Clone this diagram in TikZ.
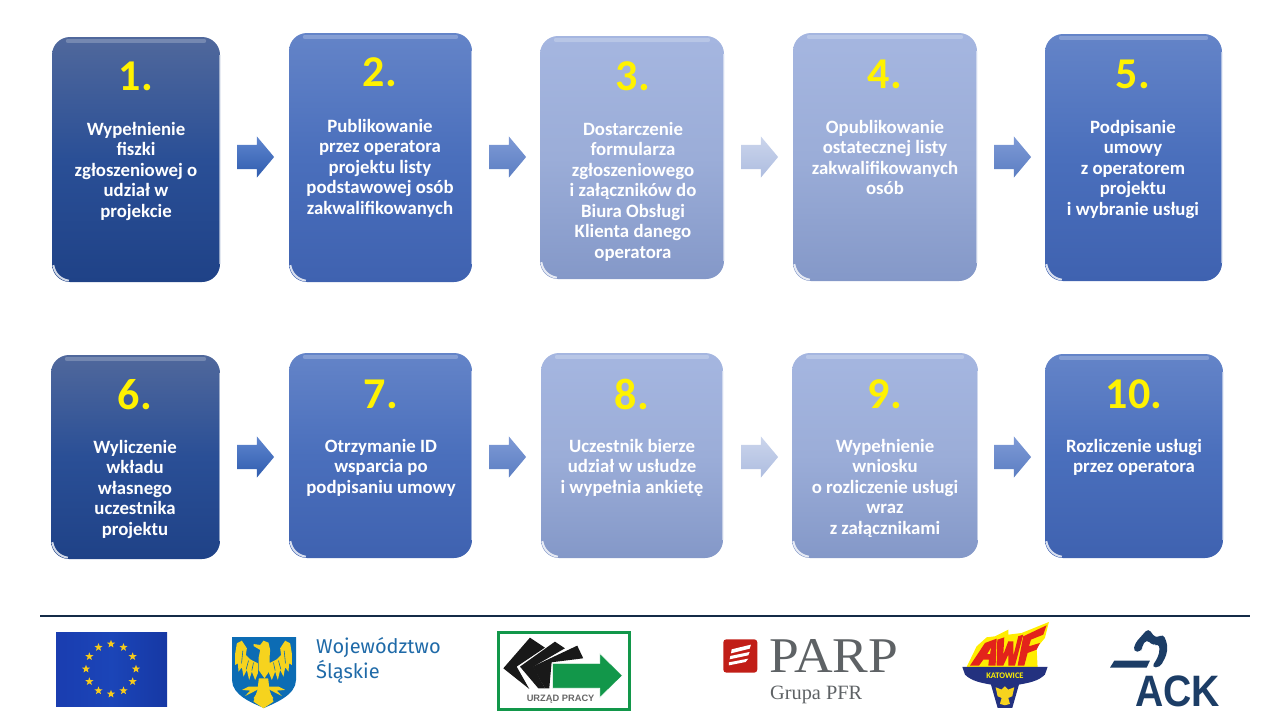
\documentclass[tikz,border=0pt]{standalone}
\usepackage{fontspec}
\setmainfont{Carlito}
\newfontfamily\serifname{Liberation Serif}
\newfontfamily\arialname{Liberation Sans}
\newfontfamily\firaname{Fira Sans}
\usetikzlibrary{shapes.arrows,shapes.geometric}

\definecolor{darktop}{HTML}{50689C}
\definecolor{darkmid}{HTML}{2A4F96}
\definecolor{darkbot}{HTML}{1F4287}
\definecolor{midtop}{HTML}{6484C8}
\definecolor{midmid}{HTML}{4A6FBC}
\definecolor{midbot}{HTML}{3F62B0}
\definecolor{paletop}{HTML}{A5B6E0}
\definecolor{palemid}{HTML}{9BADD8}
\definecolor{palebot}{HTML}{8498C8}
\definecolor{eagle}{HTML}{F6D31E}
\definecolor{navy}{HTML}{1C3D66}
\definecolor{urzad}{HTML}{12974A}
\definecolor{parp}{HTML}{5E6265}
\definecolor{awfred}{HTML}{E3231B}
\definecolor{awfblue}{HTML}{23317F}
\definecolor{euleft}{HTML}{1A3DB0}
\definecolor{eumid}{HTML}{1B45B8}
\definecolor{euright}{HTML}{1638A4}
\definecolor{shield}{HTML}{0C6CB4}
\definecolor{wojtext}{HTML}{1F6AA8}

\tikzset{
	stepbox/.style = {rectangle, rounded corners = 18pt, inner sep = 0pt},
	darkbox/.style = {stepbox, top color = darktop, bottom color = darkbot, middle color = darkmid},
	midbox/.style = {stepbox, top color = midtop, bottom color = midbot, middle color = midmid},
	palebox/.style = {stepbox, top color = paletop, bottom color = palebot, middle color = palemid},
	stepnum/.style = {text = yellow, inner sep = 0pt, font = \fontsize{44}{44}\selectfont\bfseries},
	steptext/.style = {text = white, inner sep = 0pt, anchor = north, align = center, font = \fontsize{18.8}{20.5}\selectfont\bfseries},
	blockarrow/.style = {single arrow, inner xsep = 0pt, inner ysep = 12pt, minimum height = 37pt, single arrow head extend = 8.5pt, single arrow tip angle = 100},
}

\begin{document}
\begin{tikzpicture}[x=1pt,y=-1pt]
\useasboundingbox (0,0) rectangle (1280,720);

% boxes
\foreach \n/\cx/\cy/\w/\h/\k in {
	1/136/159.5/168/245/darkbox, 2/380.5/157.5/183/249/midbox, 3/632/157.5/184/243/palebox, 4/885/157/184/248/palebox, 5/1133.5/157.5/177/247/midbox,
	6/135.5/457/169/204/darkbox, 7/380.5/455.5/183/205/midbox, 8/632/455.5/182/205/palebox, 9/885/455.5/186/205/palebox, 10/1134/456/178/204/midbox}
{
	\node[\k, minimum width = \w pt, minimum height = \h pt] (b\n) at (\cx,\cy) {};
	\draw[white, opacity = .22, line width = 4pt, line cap = round] ([xshift=16pt,yshift=-4pt]b\n.north west) -- ([xshift=-16pt,yshift=-4pt]b\n.north east);
	\draw[white, opacity = .5, line width = 1pt] ([xshift=-1pt,yshift=-18pt]b\n.north east) -- ([xshift=-1pt,yshift=18pt]b\n.south east);
	\draw[white, opacity = .8, line width = 2pt] ([xshift=1.5pt,yshift=17pt]b\n.south west) to[out=-80,in=170] ([xshift=17pt,yshift=1.5pt]b\n.south west);
}

% numbers and texts
\foreach \n/\cx/\cy/\ty/\txt in {
	1/136/76/122/{Wypełnienie\\fiszki\\zgłoszeniowej o\\udział w\\projekcie},
	2/380/72/119/{Publikowanie\\przez operatora\\projektu listy\\podstawowej osób\\zakwalifikowanych},
	3/633/76/122/{Dostarczenie\\formularza\\zgłoszeniowego\\i załączników do\\Biura Obsługi\\Klienta danego\\operatora},
	4/885/74/120/{Opublikowanie\\ostatecznej listy\\zakwalifikowanych\\osób},
	5/1133/74/120/{Podpisanie\\umowy\\z operatorem\\projektu\\i wybranie usługi},
	6/135/395/440/{Wyliczenie\\wkładu\\własnego\\uczestnika\\projektu},
	7/381/394/439/{Otrzymanie ID\\wsparcia po\\podpisaniu umowy},
	8/632/394/439/{Uczestnik bierze\\udział w usłudze\\i wypełnia ankietę},
	9/885/394/439/{Wypełnienie\\wniosku\\o rozliczenie usługi\\wraz\\z załącznikami},
	10/1134/394/439/{Rozliczenie usługi\\przez operatora}}
{
	\node[stepnum] (num\n) at (\cx,\cy) {\n.};
	\node[steptext] (txt\n) at (\cx,\ty) {\txt};
}

% arrows
\foreach \n/\cx/\cy/\ctop/\cbot in {
	1/250.5/157/5F86CF/2F5CAE, 2/502.5/157/7E9AD6/5C7EC2, 3/754.5/157/CBD5EC/AEBDE0, 4/1007.5/157/7E9AD6/5C7EC2,
	5/250.5/457/5F86CF/2F5CAE, 6/502.5/457/7E9AD6/5C7EC2, 7/754.5/457/CBD5EC/AEBDE0, 8/1007.5/457/7E9AD6/5C7EC2}
{
	\definecolor{ca}{HTML}{\ctop}
	\definecolor{cb}{HTML}{\cbot}
	\node[blockarrow, top color = ca, bottom color = cb] (arr\n) at (\cx,\cy) {};
}

% rule
\coordinate (ruleL) at (40,616);
\coordinate (ruleR) at (1250,616);
\draw[color = navy!70!black, line width = 1.1pt] (ruleL) -- (ruleR);

% EU flag
\fill[left color = euleft, right color = euright, middle color = eumid] (56,632) rectangle (167,706);
\foreach \i in {0,30,...,330}
	\node[star, star points = 5, star point ratio = 2.4, fill = eagle!90!orange, inner sep = 0pt, minimum size = 8.5pt] (st\i) at ({111+25*cos(\i)},{669+25*sin(\i)}) {};

% Slask
\fill[color = shield] (232,637) -- (296,637) -- (296,680) .. controls (296,695) and (275,703) .. (264,708) .. controls (252,703) and (232,695) .. (232,680) -- cycle;
\begin{scope}[shift={(263.5,630)},x=.333pt,y=-.333pt]
\foreach \s in {1,-1}
{
	\begin{scope}[xscale=\s]
	\fill[eagle] (-17,100) -- (-40,88) -- (-53,75) -- (-50,55) -- (-65,32) -- (-80,40) -- (-85,70) -- (-85,105) -- (-77,100) -- (-75,125) -- (-65,112) -- (-60,140) -- (-50,120) -- (-43,150) -- (-35,125) -- (-25,150) -- (-17,130) -- cycle;
	\draw[shield, line width = .6pt] (-62,62) -- (-66,100) (-45,92) -- (-52,118) (-30,98) -- (-35,122);
	\fill[eagle] (-8,150) -- (-15,170) -- (-45,170) -- (-65,180) -- (-40,182) -- (-55,198) -- (-35,188) -- (-10,175) -- (-30,205) -- (-8,215) -- cycle;
	\end{scope}
}
\fill[eagle] (-30,42) -- (-10,45) -- (0,32) -- (15,38) -- (20,60) -- (18,85) -- (20,120) -- (3,145) -- (-15,120) -- (-15,85) -- (-10,60) -- (-30,48) -- cycle;
\fill[eagle] (-14,145) -- (14,145) -- (18,180) -- (30,215) -- (0,235) -- (-30,215) -- (-18,180) -- cycle;
\end{scope}
\node[text = wojtext, inner sep = 0pt, anchor = west, font = \firaname\fontsize{20}{20}\selectfont] (woj) at (316,648) {Województwo};
\node[text = wojtext, inner sep = 0pt, anchor = west, font = \firaname\fontsize{20}{20}\selectfont] (slk) at (316,672) {Śląskie};

% Urzad Pracy
\begin{scope}[shift={(490,625)},x=.333pt,y=-.333pt]
\draw[urzad, line width = 3pt] (25,22) rectangle (418,255);
\fill[black!90] (120,38) -- (165,68) -- (80,125) -- (118,192) -- (40,130) -- cycle;
\fill[black!90] (195,50) -- (225,70) -- (130,125) -- (165,190) -- (145,190) -- (90,125) -- cycle;
\fill[black!90] (262,62) -- (280,100) -- (185,112) -- (178,190) -- (165,190) -- (128,125) -- cycle;
\fill[urzad, draw = white, line width = .7pt] (188,115) -- (330,115) -- (330,85) -- (398,152) -- (330,218) -- (330,190) -- (188,190) -- cycle;
\node[text = black!60, inner sep = 0pt, font = \arialname\fontsize{9.3}{9.3}\selectfont\bfseries] (upr) at (212,222) {URZĄD PRACY};
\end{scope}

% PARP
\begin{scope}[shift={(715,630)},x=.333pt,y=-.333pt]
\fill[awfred!85!black, rounded corners = 3pt] (25,28) -- (127,28) -- (127,128) -- (25,128) -- cycle;
\fill[white] (50,58) -- (108,44) -- (104,56) -- (48,70) -- cycle;
\fill[white] (46,78) -- (104,66) -- (100,76) -- (44,88) -- cycle;
\fill[white] (42,97) -- (100,86) -- (92,96) -- (42,106) -- cycle;
\end{scope}
\node[text = parp, inner sep = 0pt, anchor = base west, xscale = 1.07, font = \serifname\fontsize{50}{50}\selectfont] (parpname) at (769,672.5) {PARP};
\node[text = parp, inner sep = 0pt, anchor = base west, font = \serifname\fontsize{20.3}{20.3}\selectfont] (parpsub) at (770,699) {Grupa PFR};

% AWF
\begin{scope}[shift={(955,618)},x=.333pt,y=-.333pt]
\fill[yellow!95!orange] (35,147) -- (65,85) -- (95,58) -- (120,55) -- (160,35) -- (160,50) -- (200,45) -- (282,12) -- (270,60) -- (245,90) -- (248,147) -- cycle;
\fill[awfred] (45,143) -- (90,75) -- (125,62) -- (122,143) -- (100,143) -- (102,125) -- (85,125) -- (72,143) -- cycle;
\fill[yellow!95!orange] (97,108) -- (108,90) -- (105,108) -- cycle;
\fill[awfred] (127,65) -- (148,58) -- (145,110) -- (160,70) -- (175,70) -- (175,115) -- (190,55) -- (205,50) -- (180,143) -- (160,143) -- (160,110) -- (145,143) -- (125,143) -- cycle;
\fill[awfred] (205,55) -- (275,22) -- (265,50) -- (228,65) -- (222,85) -- (255,75) -- (245,95) -- (218,105) -- (208,143) -- (188,143) -- cycle;
\fill[awfblue] (22,147) -- (278,147) -- (270,170) .. controls (250,190) and (220,195) .. (192,200) -- (172,270) -- (128,270) -- (108,200) .. controls (80,195) and (50,190) .. (30,170) -- cycle;
\node[text = yellow, inner sep = 0pt, font = \fontsize{8.5}{8.5}\selectfont\bfseries] (kat) at (150,173) {KATOWICE};
\fill[eagle] (150,205) -- (160,215) -- (178,208) -- (172,235) -- (160,240) -- (165,258) -- (150,262) -- (135,258) -- (140,240) -- (128,235) -- (122,208) -- (140,215) -- cycle;
\end{scope}

% ACK
\begin{scope}[shift={(1105,620)},x=.333pt,y=-.333pt]
\fill[navy] (28,122) -- (135,122) -- (125,143) -- (15,143) -- cycle;
\fill[navy, rounded corners = 4pt] (85,95) -- (90,70) -- (130,25) -- (152,55) -- (175,42) -- (188,75) -- (185,105) -- (165,142) -- (140,142) -- (160,110) -- (165,85) -- (160,70) -- (145,78) -- (125,58) -- (110,80) -- (110,95) -- cycle;
\end{scope}
\node[text = navy, inner sep = 0pt, anchor = base, xscale = .89, font = \arialname\fontsize{44}{44}\selectfont\bfseries] (ackname) at (1177.5,706) {ACK};

\end{tikzpicture}
\end{document}
